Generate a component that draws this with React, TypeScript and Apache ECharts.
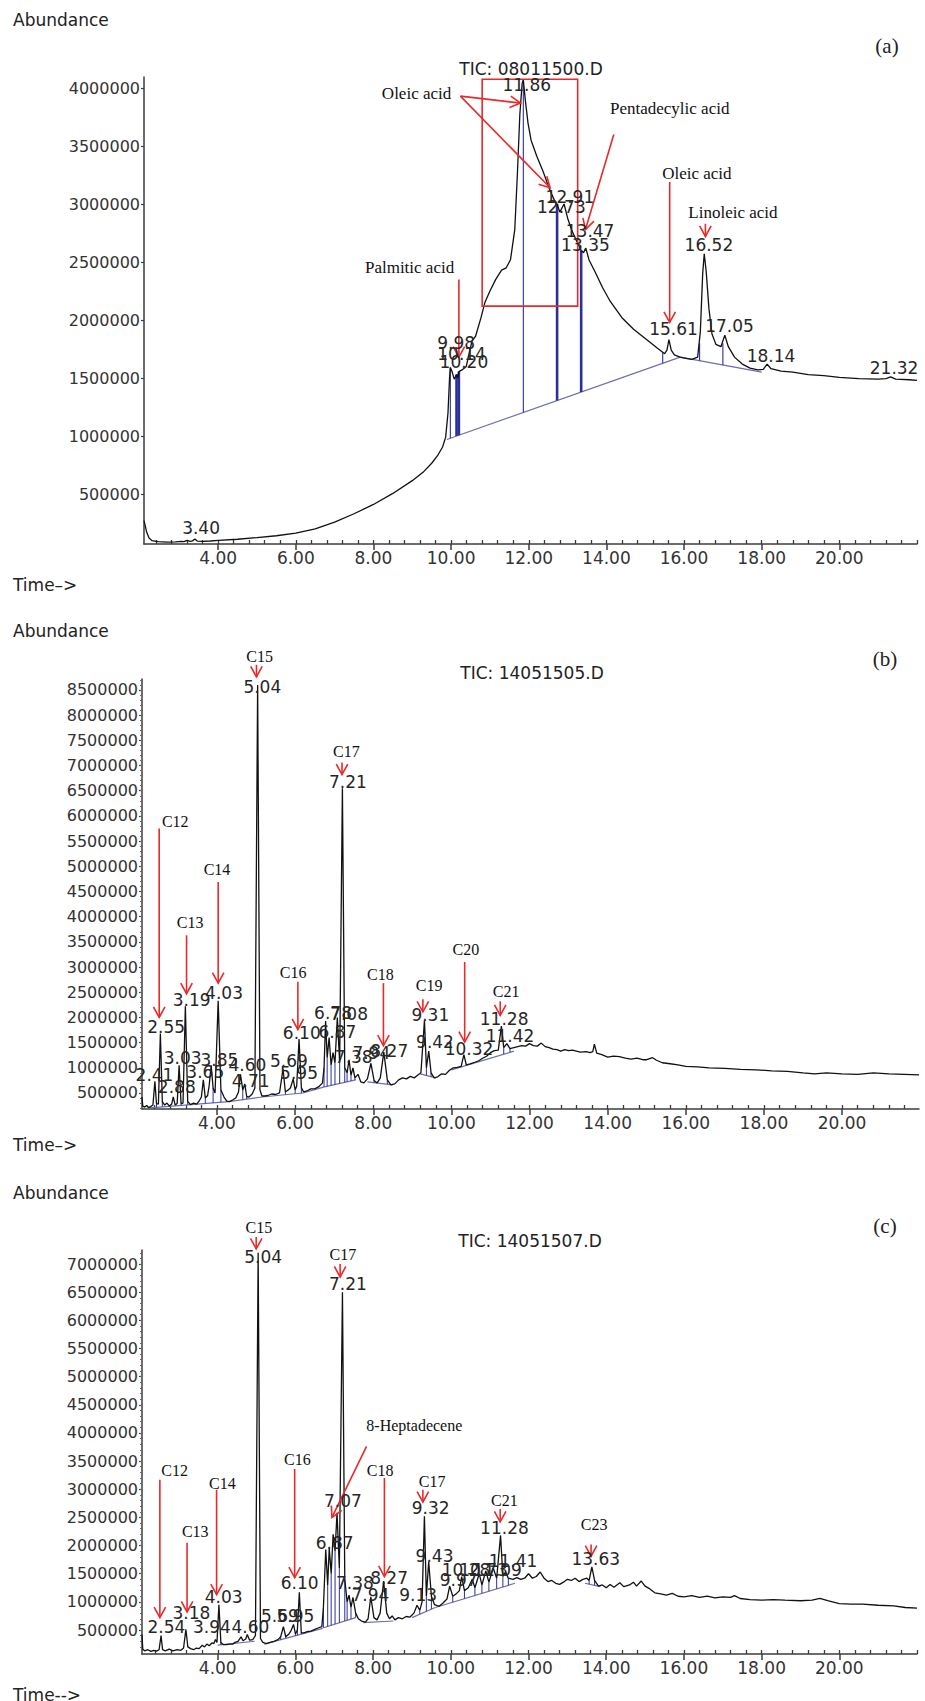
import React, { useEffect, useRef } from "react";
import * as echarts from "echarts";

type Seg = [number, number, number, number];
type Drop = [number, number, number];
type Lbl = [string, number, number];

// ---------- shared ticks ----------
const xTicksMajor = [4, 6, 8, 10, 12, 14, 16, 18, 20];
const xTicksMinor = [2.4, 2.8, 3.2, 3.6, 4.0, 4.4, 4.8, 5.2, 5.6, 6.0, 6.4, 6.8, 7.2, 7.6, 8.0, 8.4, 8.8, 9.2, 9.6, 10.0, 10.4, 10.8, 11.2, 11.6, 12.0, 12.4, 12.8, 13.2, 13.6, 14.0, 14.4, 14.8, 15.2, 15.6, 16.0, 16.4, 16.8, 17.2, 17.6, 18.0, 18.4, 18.8, 19.2, 19.6, 20.0, 20.4, 20.8, 21.2, 21.6, 22.0];
const yTicksA = [500000, 1000000, 1500000, 2000000, 2500000, 3000000, 3500000, 4000000];
const yTicksB = [500000, 1000000, 1500000, 2000000, 2500000, 3000000, 3500000, 4000000, 4500000, 5000000, 5500000, 6000000, 6500000, 7000000, 7500000, 8000000, 8500000];
const yTicksC = [500000, 1000000, 1500000, 2000000, 2500000, 3000000, 3500000, 4000000, 4500000, 5000000, 5500000, 6000000, 6500000, 7000000];

// ---------- panel (a) ----------
const traceA: [number, number][] = [
  [2.09, 270000], [2.12, 230000], [2.16, 170000], [2.22, 120000], [2.3, 98000], [2.45, 90000], [2.7, 86000], [2.9, 88000],
  [3.05, 92000], [3.12, 89000], [3.2, 100000], [3.28, 91000], [3.34, 96000], [3.4, 112000], [3.46, 94000], [3.6, 92000],
  [3.8, 95000], [4.0, 100000], [4.5, 110000], [5.0, 124000], [5.5, 140000], [6.0, 162000], [6.5, 200000], [7.0, 258000],
  [7.5, 330000], [8.0, 410000], [8.5, 505000], [9.0, 615000], [9.3, 695000], [9.5, 765000], [9.65, 830000], [9.78, 905000],
  [9.86, 990000], [9.92, 1200000], [9.96, 1500000], [9.98, 1590000], [10.02, 1560000], [10.08, 1490000], [10.14, 1530000],
  [10.17, 1500000], [10.2, 1555000], [10.28, 1570000], [10.39, 1600000], [10.47, 1720000], [10.54, 1820000], [10.63, 1860000],
  [10.77, 2020000], [10.87, 2150000], [11.0, 2250000], [11.15, 2350000], [11.3, 2430000], [11.42, 2450000], [11.53, 2520000],
  [11.64, 2780000], [11.71, 3280000], [11.77, 3770000], [11.83, 4040000], [11.86, 4070000], [11.91, 3900000], [11.98, 3700000],
  [12.06, 3550000], [12.21, 3410000], [12.37, 3280000], [12.52, 3140000], [12.65, 3040000], [12.73, 3000000], [12.8, 2930000],
  [12.91, 3000000], [13.0, 2880000], [13.1, 2780000], [13.22, 2690000], [13.35, 2600000], [13.41, 2580000], [13.47, 2620000],
  [13.55, 2520000], [13.7, 2420000], [13.9, 2280000], [14.1, 2160000], [14.4, 2020000], [14.7, 1920000], [15.0, 1840000],
  [15.3, 1760000], [15.5, 1710000], [15.56, 1740000], [15.61, 1830000], [15.67, 1740000], [15.75, 1700000], [15.9, 1680000],
  [16.05, 1670000], [16.2, 1660000], [16.35, 1680000], [16.42, 1900000], [16.48, 2400000], [16.52, 2570000], [16.57, 2420000],
  [16.64, 2100000], [16.72, 1880000], [16.82, 1790000], [16.95, 1770000], [17.05, 1870000], [17.14, 1770000], [17.3, 1680000],
  [17.5, 1620000], [17.7, 1585000], [17.9, 1570000], [18.04, 1575000], [18.14, 1620000], [18.24, 1580000], [18.5, 1560000],
  [18.8, 1550000], [19.2, 1530000], [19.6, 1520000], [20.0, 1505000], [20.5, 1495000], [21.0, 1490000], [21.2, 1495000],
  [21.32, 1510000], [21.45, 1490000], [21.8, 1485000], [22.0, 1480000],
];
const baseA: Seg[] = [[9.89, 970000, 15.9, 1680000], [15.9, 1680000, 18.0, 1550000]];
const dropThinA: Drop[] = [[9.98, 981000, 1590000], [11.86, 1203000, 4070000], [15.45, 1627000, 1720000], [16.4, 1649000, 1800000], [17.0, 1612000, 1800000]];
const dropThickA: Drop[] = [[10.14, 1000000, 1530000], [10.2, 1007000, 1555000], [12.73, 1305000, 3000000], [13.35, 1379000, 2600000]];
const peakLabelsA: Lbl[] = [
  ["3.40", 3.56, 204000], ["9.98", 10.13, 1800000], ["10.14", 10.27, 1710000], ["10.20", 10.33, 1635000],
  ["11.86", 11.95, 4030000], ["12.91", 13.06, 3060000], ["12.73", 12.84, 2970000], ["13.47", 13.58, 2770000],
  ["13.35", 13.46, 2650000], ["15.61", 15.73, 1920000], ["16.52", 16.64, 2650000], ["17.05", 17.17, 1950000],
  ["18.14", 18.24, 1690000], ["21.32", 21.41, 1586000],
];
const nameLabelsA: Lbl[] = [
  ["Oleic acid", 9.11, 3950000], ["Pentadecylic acid", 15.63, 3820000], ["Palmitic acid", 8.93, 2450000],
  ["Oleic acid", 16.33, 3260000], ["Linoleic acid", 17.26, 2930000],
];
const arrowsA: Seg[] = [
  [10.24, 3930000, 11.79, 3870000], [10.24, 3930000, 12.55, 3140000], [14.19, 3600000, 13.46, 2780000],
  [10.2, 2350000, 10.2, 1680000], [15.63, 3190000, 15.63, 1980000], [16.55, 2830000, 16.55, 2720000],
];
const boxA: Seg[] = [[10.8, 2120000, 13.26, 4075000]];

// ---------- panel (b) ----------
const traceB: [number, number][] = [
  [2.08, 420000], [2.1, 240000], [2.15, 220000], [2.2, 250000], [2.25, 210000], [2.3, 230000], [2.36, 260000], [2.41, 730000],
  [2.45, 290000], [2.5, 280000], [2.55, 1680000], [2.6, 330000], [2.66, 260000], [2.72, 300000], [2.78, 240000], [2.84, 280000],
  [2.88, 420000], [2.93, 260000], [2.98, 290000], [3.03, 1050000], [3.08, 290000], [3.13, 300000], [3.19, 2220000], [3.25, 330000],
  [3.32, 270000], [3.4, 300000], [3.48, 280000], [3.55, 350000], [3.6, 420000], [3.65, 760000], [3.7, 400000], [3.76, 450000],
  [3.8, 650000], [3.85, 1050000], [3.9, 600000], [3.95, 500000], [4.03, 2330000], [4.1, 560000], [4.18, 420000], [4.25, 340000],
  [4.32, 330000], [4.4, 360000], [4.48, 400000], [4.55, 520000], [4.6, 870000], [4.66, 560000], [4.71, 680000], [4.76, 430000],
  [4.82, 420000], [4.9, 480000], [4.97, 600000], [5.04, 8600000], [5.1, 560000], [5.15, 440000], [5.22, 440000], [5.3, 450000],
  [5.4, 480000], [5.5, 470000], [5.6, 500000], [5.69, 980000], [5.75, 520000], [5.82, 560000], [5.88, 600000], [5.95, 780000],
  [6.0, 560000], [6.04, 640000], [6.1, 1570000], [6.16, 600000], [6.22, 520000], [6.3, 540000], [6.4, 580000], [6.5, 580000],
  [6.6, 620000], [6.7, 700000], [6.74, 1000000], [6.78, 1930000], [6.82, 1200000], [6.87, 1600000], [6.92, 1050000], [6.97, 1300000],
  [7.02, 1100000], [7.08, 2000000], [7.14, 1100000], [7.21, 6550000], [7.27, 1000000], [7.33, 900000], [7.38, 1160000], [7.43, 850000],
  [7.48, 1000000], [7.53, 800000], [7.61, 870000], [7.68, 720000], [7.76, 700000], [7.85, 780000], [7.94, 1090000], [8.02, 750000],
  [8.1, 700000], [8.18, 800000], [8.27, 1310000], [8.36, 760000], [8.45, 660000], [8.55, 680000], [8.65, 760000], [8.75, 800000],
  [8.85, 780000], [8.95, 830000], [9.05, 800000], [9.15, 860000], [9.22, 900000], [9.31, 1940000], [9.36, 1000000], [9.42, 1330000],
  [9.48, 900000], [9.56, 800000], [9.65, 820000], [9.75, 880000], [9.85, 870000], [9.95, 950000], [10.05, 1000000], [10.15, 1010000],
  [10.25, 1030000], [10.32, 1260000], [10.38, 1060000], [10.48, 1080000], [10.6, 1110000], [10.7, 1140000], [10.8, 1190000],
  [10.9, 1230000], [11.0, 1300000], [11.1, 1340000], [11.2, 1350000], [11.28, 1830000], [11.34, 1400000], [11.42, 1480000],
  [11.5, 1380000], [11.6, 1400000], [11.7, 1420000], [11.8, 1440000], [11.9, 1430000], [12.0, 1480000], [12.1, 1440000],
  [12.2, 1430000], [12.3, 1490000], [12.4, 1420000], [12.5, 1400000], [12.6, 1370000], [12.7, 1360000], [12.8, 1330000],
  [12.9, 1360000], [13.0, 1340000], [13.1, 1350000], [13.2, 1330000], [13.3, 1310000], [13.45, 1320000], [13.55, 1300000],
  [13.62, 1320000], [13.66, 1470000], [13.72, 1290000], [13.85, 1260000], [14.0, 1210000], [14.15, 1230000], [14.3, 1220000],
  [14.45, 1190000], [14.6, 1170000], [14.75, 1190000], [14.9, 1160000], [15.0, 1160000], [15.15, 1200000], [15.25, 1150000],
  [15.4, 1100000], [15.6, 1080000], [15.8, 1060000], [16.0, 1030000], [16.3, 1020000], [16.6, 1000000], [17.0, 990000],
  [17.4, 970000], [17.8, 960000], [18.2, 940000], [18.6, 930000], [19.0, 900000], [19.3, 880000], [19.6, 900000], [20.0, 880000],
  [20.4, 870000], [20.8, 900000], [21.2, 880000], [21.6, 870000], [21.97, 860000],
];
const baseB: Seg[] = [
  [2.2, 200000, 4.3, 330000], [4.3, 330000, 5.15, 420000], [5.15, 420000, 6.2, 500000], [6.2, 500000, 6.75, 620000],
  [6.75, 620000, 7.55, 760000], [7.85, 720000, 8.5, 660000], [9.2, 880000, 9.6, 800000], [10.0, 960000, 11.6, 1330000],
];
const dropsB: Drop[] = [
  [2.45, 215000, 290000], [2.6, 225000, 330000], [3.08, 254000, 290000], [3.25, 265000, 330000], [3.7, 293000, 400000],
  [3.9, 305000, 600000], [4.1, 318000, 560000], [4.66, 368000, 560000], [4.76, 379000, 430000], [5.75, 466000, 520000],
  [6.0, 485000, 560000], [6.16, 497000, 600000], [6.74, 620000, 1000000], [6.82, 632000, 1200000], [6.92, 650000, 1050000],
  [7.02, 667000, 1100000], [7.14, 688000, 1100000], [7.27, 711000, 1000000], [7.33, 721000, 900000], [7.43, 739000, 850000],
  [7.53, 756000, 800000], [8.02, 704000, 750000], [8.36, 673000, 760000], [9.36, 848000, 1000000], [9.48, 824000, 900000],
  [10.38, 1048000, 1060000], [11.34, 1270000, 1400000], [11.5, 1307000, 1380000],
];
const peakLabelsB: Lbl[] = [
  ["5.04", 5.16, 8550000], ["7.21", 7.35, 6670000], ["2.55", 2.7, 1810000], ["3.19", 3.35, 2350000], ["4.03", 4.18, 2480000],
  ["6.10", 6.17, 1700000], ["6.78", 6.97, 2080000], ["7.08", 7.38, 2060000], ["6.87", 7.08, 1720000], ["7.38", 7.5, 1210000],
  ["7.94", 7.95, 1300000], ["8.27", 8.41, 1330000], ["9.31", 9.46, 2040000], ["9.42", 9.58, 1510000], ["10.32", 10.45, 1380000],
  ["11.28", 11.35, 1970000], ["11.42", 11.5, 1640000], ["2.41", 2.4, 860000], ["2.88", 2.97, 610000], ["3.03", 3.12, 1190000],
  ["3.65", 3.7, 910000], ["3.85", 4.06, 1160000], ["4.60", 4.78, 1050000], ["4.71", 4.86, 730000], ["5.69", 5.84, 1140000],
  ["5.95", 6.1, 890000],
];
const cLabelsB: Lbl[] = [
  ["C15", 5.09, 9160000], ["C17", 7.31, 7280000], ["C12", 2.93, 5880000], ["C13", 3.31, 3880000], ["C14", 4.0, 4930000],
  ["C16", 5.95, 2890000], ["C18", 8.18, 2850000], ["C19", 9.43, 2640000], ["C20", 10.37, 3350000], ["C21", 11.4, 2520000],
];
const arrowsB: Seg[] = [
  [5.01, 9000000, 5.01, 8760000], [7.2, 7060000, 7.2, 6820000], [2.52, 5750000, 2.52, 2000000], [3.22, 3630000, 3.22, 2470000],
  [4.03, 4690000, 4.03, 2680000], [6.07, 2710000, 6.07, 1760000], [8.26, 2680000, 8.26, 1440000], [9.27, 2360000, 9.27, 2110000],
  [10.34, 3100000, 10.34, 1510000], [11.25, 2320000, 11.25, 2040000],
];

// ---------- panel (c) ----------
const traceC: [number, number][] = [
  [2.05, 420000], [2.07, 160000], [2.12, 130000], [2.2, 150000], [2.28, 120000], [2.35, 140000], [2.42, 125000], [2.49, 150000],
  [2.54, 400000], [2.58, 150000], [2.65, 130000], [2.75, 160000], [2.85, 130000], [2.95, 150000], [3.05, 140000], [3.12, 180000],
  [3.18, 510000], [3.23, 200000], [3.3, 170000], [3.38, 150000], [3.45, 180000], [3.52, 170000], [3.6, 230000], [3.66, 200000],
  [3.72, 250000], [3.78, 220000], [3.85, 270000], [3.9, 260000], [3.94, 330000], [3.98, 280000], [4.03, 950000], [4.08, 280000],
  [4.15, 240000], [4.22, 240000], [4.3, 250000], [4.38, 250000], [4.45, 280000], [4.52, 300000], [4.6, 380000], [4.65, 310000],
  [4.72, 340000], [4.76, 420000], [4.82, 320000], [4.9, 330000], [4.97, 400000], [5.04, 7200000], [5.1, 350000], [5.16, 280000],
  [5.25, 260000], [5.35, 280000], [5.45, 300000], [5.55, 330000], [5.62, 380000], [5.69, 560000], [5.75, 380000], [5.82, 420000],
  [5.88, 480000], [5.95, 600000], [6.0, 430000], [6.05, 500000], [6.1, 1170000], [6.15, 450000], [6.22, 450000], [6.3, 470000],
  [6.4, 480000], [6.5, 510000], [6.6, 540000], [6.68, 560000], [6.72, 900000], [6.78, 1930000], [6.83, 1300000], [6.87, 1950000],
  [6.92, 1500000], [6.97, 2200000], [7.02, 1900000], [7.07, 2580000], [7.13, 1600000], [7.21, 6500000], [7.27, 1400000],
  [7.33, 1000000], [7.38, 1120000], [7.43, 900000], [7.48, 1080000], [7.55, 800000], [7.62, 700000], [7.7, 660000], [7.8, 640000],
  [7.87, 700000], [7.94, 1090000], [8.02, 720000], [8.1, 680000], [8.18, 800000], [8.27, 1370000], [8.35, 800000], [8.42, 700000],
  [8.49, 750000], [8.56, 680000], [8.65, 720000], [8.75, 700000], [8.85, 740000], [8.95, 730000], [9.05, 800000], [9.13, 940000],
  [9.2, 850000], [9.26, 1000000], [9.32, 2520000], [9.37, 1100000], [9.43, 1710000], [9.5, 1100000], [9.58, 950000], [9.7, 920000],
  [9.8, 980000], [9.9, 1050000], [9.97, 1280000], [10.05, 1100000], [10.15, 1150000], [10.22, 1200000], [10.28, 1450000],
  [10.35, 1200000], [10.45, 1250000], [10.55, 1400000], [10.62, 1250000], [10.73, 1500000], [10.8, 1300000], [10.9, 1550000],
  [10.98, 1350000], [11.09, 1600000], [11.18, 1420000], [11.28, 2180000], [11.34, 1450000], [11.41, 1530000], [11.48, 1420000],
  [11.6, 1400000], [11.7, 1430000], [11.8, 1400000], [11.9, 1420000], [12.0, 1500000], [12.1, 1420000], [12.2, 1450000],
  [12.3, 1530000], [12.4, 1420000], [12.5, 1360000], [12.6, 1380000], [12.7, 1330000], [12.8, 1310000], [12.9, 1350000],
  [13.0, 1400000], [13.1, 1380000], [13.2, 1420000], [13.3, 1360000], [13.4, 1400000], [13.5, 1420000], [13.56, 1380000],
  [13.63, 1620000], [13.7, 1380000], [13.8, 1280000], [13.9, 1300000], [14.0, 1250000], [14.1, 1310000], [14.2, 1260000],
  [14.35, 1340000], [14.45, 1270000], [14.6, 1300000], [14.7, 1350000], [14.78, 1280000], [14.9, 1370000], [15.0, 1280000],
  [15.1, 1240000], [15.25, 1160000], [15.4, 1140000], [15.55, 1120000], [15.7, 1150000], [15.85, 1100000], [16.0, 1090000],
  [16.2, 1110000], [16.4, 1080000], [16.6, 1100000], [16.8, 1070000], [17.0, 1090000], [17.2, 1080000], [17.3, 1110000],
  [17.45, 1060000], [17.7, 1040000], [18.0, 1030000], [18.3, 1040000], [18.6, 1030000], [19.0, 1020000], [19.3, 1030000],
  [19.5, 1060000], [19.7, 1020000], [20.0, 970000], [20.3, 960000], [20.6, 960000], [21.0, 940000], [21.4, 930000],
  [21.7, 900000], [22.0, 890000],
];
const baseC: Seg[] = [
  [4.0, 230000, 4.95, 300000], [5.2, 250000, 6.7, 530000], [6.72, 540000, 7.55, 720000], [7.75, 630000, 8.52, 660000],
  [9.0, 720000, 9.6, 900000], [9.6, 900000, 11.65, 1330000], [13.45, 1330000, 13.85, 1270000],
];
const dropsC: Drop[] = [
  [4.08, 236000, 280000], [5.62, 328000, 380000], [5.75, 353000, 380000], [6.0, 399000, 430000], [6.05, 408000, 500000],
  [6.15, 427000, 450000], [6.72, 540000, 900000], [6.83, 564000, 1300000], [6.92, 583000, 1500000], [7.02, 605000, 1900000],
  [7.13, 629000, 1600000], [7.27, 659000, 1400000], [7.33, 672000, 1000000], [7.43, 694000, 900000], [7.55, 720000, 800000],
  [9.2, 780000, 850000], [9.37, 831000, 1100000], [9.5, 870000, 1100000], [10.05, 994000, 1100000], [10.35, 1057000, 1200000],
  [10.62, 1114000, 1250000], [10.8, 1152000, 1300000], [10.98, 1190000, 1350000], [11.18, 1232000, 1420000],
  [11.34, 1265000, 1450000], [11.48, 1294000, 1420000], [13.56, 1313000, 1380000], [13.7, 1292000, 1380000],
];
const peakLabelsC: Lbl[] = [
  ["5.04", 5.17, 7120000], ["7.21", 7.35, 6640000], ["2.54", 2.68, 560000], ["3.18", 3.32, 810000], ["4.03", 4.15, 1090000],
  ["6.10", 6.11, 1330000], ["7.38", 7.53, 1330000], ["8.27", 8.41, 1420000], ["6.87", 7.01, 2050000], ["7.07", 7.22, 2800000],
  ["9.32", 9.48, 2660000], ["9.43", 9.58, 1820000], ["9.97", 10.2, 1380000], ["7.94", 7.93, 1120000],
  ["9.13", 9.16, 1120000], ["11.28", 11.38, 2320000], ["11.41", 11.6, 1730000], ["10.28", 10.39, 1570000], ["10.73", 10.84, 1570000],
  ["11.09", 11.2, 1570000], ["13.63", 13.73, 1760000], ["3.94", 3.85, 550000], ["4.60", 4.84, 550000], ["5.69", 5.6, 750000],
  ["5.95", 6.0, 750000],
];
const cLabelsC: Lbl[] = [
  ["C15", 5.06, 7640000], ["C17", 7.22, 7170000], ["C12", 2.89, 3330000], ["C13", 3.42, 2250000], ["C14", 4.12, 3110000],
  ["C16", 6.05, 3520000], ["C18", 8.18, 3330000], ["C17", 9.52, 3140000], ["C21", 11.38, 2800000], ["C23", 13.69, 2370000],
];
const nameLabelsC: Lbl[] = [["8-Heptadecene", 9.06, 4130000]];
const arrowsC: Seg[] = [
  [4.99, 7480000, 4.99, 7270000], [7.15, 7000000, 7.15, 6770000], [2.51, 3170000, 2.51, 720000], [3.21, 2050000, 3.21, 820000],
  [3.97, 2990000, 3.97, 1130000], [5.98, 3360000, 5.98, 1430000], [7.83, 3760000, 6.94, 2500000], [8.29, 3200000, 8.29, 1450000],
  [9.28, 2990000, 9.28, 2770000], [11.27, 2650000, 11.27, 2420000], [13.61, 2020000, 13.61, 1810000],
];

// ---------- styles ----------
const RED = "#e82a2a";
const BASE_COLOR = "#6d6db4";
const DROP_COLOR = "#2a2f9a";
const TEXT = "#262626";
const SANS = "DejaVu Sans";
const SERIF = "Liberation Serif";

function minorY(min: number, max: number): number[] {
  const out: number[] = [];
  for (let v = 200000; v <= max; v += 100000) if (v >= min) out.push(v);
  return out;
}

export default function App() {
  const ref = useRef<HTMLDivElement>(null);
  useEffect(() => {
    document.body.style.margin = "0";
    if (!ref.current) return;
    const chart = echarts.init(ref.current, undefined, { renderer: "svg" });

    const grids = [
      { left: 144, top: 77, width: 773, height: 467 },
      { left: 142, top: 679, width: 777, height: 430 },
      { left: 142, top: 1250, width: 775, height: 404 },
    ];
    const xr = [[2.09, 22.0], [2.08, 21.97], [2.05, 22.0]];
    const yr = [[69000, 4095000], [182000, 8718000], [74000, 7249000]];
    const yTicks = [yTicksA, yTicksB, yTicksC];
    const axisColor = "#3c3c3c";

    const xAxis: any[] = [];
    const yAxis: any[] = [];
    for (let g = 0; g < 3; g++) {
      xAxis.push({
        type: "value", gridIndex: g, min: xr[g][0], max: xr[g][1], position: "bottom",
        axisLine: { show: true, onZero: false, lineStyle: { color: axisColor, width: 1.5 } },
        axisTick: { show: true, customValues: xTicksMajor, length: 6, lineStyle: { color: axisColor, width: 1.5 } },
        axisLabel: { customValues: xTicksMajor, formatter: (v: number) => v.toFixed(2), fontFamily: SANS, fontSize: 17, color: "#333", margin: 5 },
        splitLine: { show: false },
      });
      xAxis.push({
        type: "value", gridIndex: g, min: xr[g][0], max: xr[g][1], position: "bottom", offset: 0,
        axisLine: { show: false, onZero: false },
        axisTick: { show: true, inside: true, customValues: xTicksMinor.filter((v) => v <= xr[g][1]), length: 4, lineStyle: { color: axisColor, width: 1.3 } },
        axisLabel: { show: false },
        splitLine: { show: false },
      });
      yAxis.push({
        type: "value", gridIndex: g, min: yr[g][0], max: yr[g][1], position: "left",
        axisLine: { show: true, onZero: false, lineStyle: { color: axisColor, width: 1.5 } },
        axisTick: { show: true, customValues: yTicks[g], length: 3, lineStyle: { color: axisColor, width: 1.2 } },
        axisLabel: { customValues: yTicks[g], formatter: (v: number) => String(Math.round(v)), fontFamily: SANS, fontSize: 16, color: "#333", margin: 4 },
        splitLine: { show: false },
      });
      yAxis.push({
        type: "value", gridIndex: g, min: yr[g][0], max: yr[g][1], position: "left", offset: 0,
        axisLine: { show: false, onZero: false },
        axisTick: { show: g > 0, customValues: minorY(yr[g][0], yr[g][1]), length: 2, lineStyle: { color: "#666", width: 1 } },
        axisLabel: { show: false },
        splitLine: { show: false },
      });
    }

    const segSeries = (g: number, segs: Seg[], color: string, width: number, z = 2) => ({
      type: "custom", xAxisIndex: 2 * g, yAxisIndex: 2 * g, clip: false, silent: true, z,
      data: segs.map((s) => [s[0], s[1]]),
      renderItem: (params: any, api: any) => {
        const s = segs[params.dataIndex];
        const a = api.coord([s[0], s[1]]);
        const b = api.coord([s[2], s[3]]);
        return { type: "line", shape: { x1: a[0], y1: a[1], x2: b[0], y2: b[1] }, style: { stroke: color, lineWidth: width } };
      },
    });
    const dropSeries = (g: number, drops: Drop[], color: string, width: number) =>
      segSeries(g, drops.map((d) => [d[0], d[1], d[0], d[2]] as Seg), color, width, 2);

    const arrowSeries = (g: number, arrs: Seg[]) => ({
      type: "custom", xAxisIndex: 2 * g, yAxisIndex: 2 * g, clip: false, silent: true, z: 5,
      data: arrs.map((s) => [s[0], s[1]]),
      renderItem: (params: any, api: any) => {
        const s = arrs[params.dataIndex];
        const a = api.coord([s[0], s[1]]);
        const b = api.coord([s[2], s[3]]);
        const ang = Math.atan2(b[1] - a[1], b[0] - a[0]);
        const L = 12, A = 0.5;
        const h1 = [b[0] - L * Math.cos(ang - A), b[1] - L * Math.sin(ang - A)];
        const h2 = [b[0] - L * Math.cos(ang + A), b[1] - L * Math.sin(ang + A)];
        return {
          type: "group",
          children: [
            { type: "line", shape: { x1: a[0], y1: a[1], x2: b[0], y2: b[1] }, style: { stroke: RED, lineWidth: 1.6 } },
            { type: "polyline", shape: { points: [h1, b, h2] }, style: { stroke: RED, lineWidth: 1.6, fill: "none" } },
          ],
        };
      },
    });

    const textSeries = (g: number, items: Lbl[], family: string, size: number, color: string, weight = "normal") => ({
      type: "custom", xAxisIndex: 2 * g, yAxisIndex: 2 * g, clip: false, silent: true, z: 6,
      data: items.map((d) => [d[1], d[2]]),
      renderItem: (params: any, api: any) => {
        const d = items[params.dataIndex];
        const p = api.coord([d[1], d[2]]);
        return {
          type: "text", x: p[0], y: p[1],
          style: { text: d[0], fill: color, fontFamily: family, fontSize: size, fontWeight: weight, align: "center", verticalAlign: "middle", textAlign: "center", textVerticalAlign: "middle" },
        };
      },
    });

    const boxSeries = (g: number, boxes: Seg[]) => ({
      type: "custom", xAxisIndex: 2 * g, yAxisIndex: 2 * g, clip: false, silent: true, z: 4,
      data: boxes.map((s) => [s[0], s[1]]),
      renderItem: (params: any, api: any) => {
        const s = boxes[params.dataIndex];
        const a = api.coord([s[0], s[1]]);
        const b = api.coord([s[2], s[3]]);
        return { type: "rect", shape: { x: Math.min(a[0], b[0]), y: Math.min(a[1], b[1]), width: Math.abs(b[0] - a[0]), height: Math.abs(b[1] - a[1]) }, style: { stroke: RED, lineWidth: 1.6, fill: "none" } };
      },
    });

    const traceSeries = (g: number, data: [number, number][]) => ({
      type: "line", xAxisIndex: 2 * g, yAxisIndex: 2 * g, data, showSymbol: false, symbol: "none", silent: true, z: 3,
      lineStyle: { color: "#111", width: 1.3 },
    });

    const series: any[] = [
      segSeries(0, baseA, BASE_COLOR, 1.2),
      dropSeries(0, dropThinA, DROP_COLOR, 1.1),
      dropSeries(0, dropThickA, DROP_COLOR, 2.6),
      traceSeries(0, traceA),
      boxSeries(0, boxA),
      arrowSeries(0, arrowsA),
      textSeries(0, peakLabelsA, SANS, 17, TEXT),
      textSeries(0, nameLabelsA, SERIF, 17, "#111"),

      segSeries(1, baseB, BASE_COLOR, 1.2),
      dropSeries(1, dropsB, DROP_COLOR, 1),
      traceSeries(1, traceB),
      arrowSeries(1, arrowsB),
      textSeries(1, peakLabelsB, SANS, 17, TEXT),
      textSeries(1, cLabelsB, SERIF, 16, "#111"),

      segSeries(2, baseC, BASE_COLOR, 1.2),
      dropSeries(2, dropsC, DROP_COLOR, 1),
      traceSeries(2, traceC),
      arrowSeries(2, arrowsC),
      textSeries(2, peakLabelsC, SANS, 17, TEXT),
      textSeries(2, cLabelsC, SERIF, 16, "#111"),
      textSeries(2, nameLabelsC, SERIF, 16, "#111"),
    ];

    const gtext = (text: string, x: number, y: number, family: string, size: number, align: string) => ({
      type: "text", x, y, silent: true,
      style: { text, fill: "#222", fontFamily: family, fontSize: size, align, verticalAlign: "middle", textAlign: align, textVerticalAlign: "middle" },
    });

    const graphic = [
      gtext("Abundance", 13, 20, SANS, 17, "left"),
      gtext("Time\u2013>", 13, 585, SANS, 17, "left"),
      gtext("TIC: 08011500.D", 531, 69, SANS, 17, "center"),
      gtext("(a)", 887, 46, SERIF, 21, "center"),
      gtext("Abundance", 13, 631, SANS, 17, "left"),
      gtext("Time\u2013>", 13, 1145, SANS, 17, "left"),
      gtext("TIC: 14051505.D", 532, 673, SANS, 17, "center"),
      gtext("(b)", 885, 659, SERIF, 21, "center"),
      gtext("Abundance", 13, 1193, SANS, 17, "left"),
      gtext("Time-->", 13, 1695, SANS, 17, "left"),
      gtext("TIC: 14051507.D", 530, 1241, SANS, 17, "center"),
      gtext("(c)", 885, 1226, SERIF, 21, "center"),
    ];

    chart.setOption({
      animation: false,
      backgroundColor: "#ffffff",
      grid: grids,
      xAxis,
      yAxis,
      series,
      graphic,
    });
    return () => chart.dispose();
  }, []);
  return <div ref={ref} style={{ width: 925, height: 1701 }} />;
}
